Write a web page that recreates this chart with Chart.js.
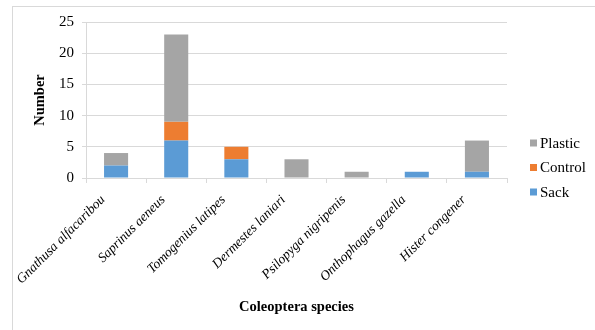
<!DOCTYPE html>
<html>
<head>
<meta charset="utf-8">
<script src="https://cdn.jsdelivr.net/npm/chart.js@4"></script>
<style>
  html, body { margin: 0; padding: 0; background: #fff; }
  #wrap { position: relative; width: 595px; height: 330px; overflow: hidden; }
  #frame { position: absolute; left: 12px; top: 6px; width: 600px; height: 340px;
           border-left: 1.5px solid #d9d9d9; border-top: 1.5px solid #d9d9d9; }
  canvas { position: absolute; left: 0; top: 0; }
</style>
</head>
<body>
<div id="wrap">
  <div id="frame"></div>
  <canvas id="chart" width="595" height="330"></canvas>
</div>
<script>
// Coleoptera species counted per trap type
const species = [
  'Gnathusa alfacaribou',
  'Saprinus aeneus',
  'Tomogenius latipes',
  'Dermestes laniari',
  'Psilopyga nigripenis',
  'Onthophagus gazella',
  'Hister congener'
];
const sack    = [2, 6, 3, 0, 0, 1, 1];
const control = [0, 3, 2, 0, 0, 0, 0];
const plastic = [2, 14, 0, 3, 1, 0, 5];
const yTicks  = [0, 5, 10, 15, 20, 25];

const SERIF = "'Liberation Serif', 'DejaVu Serif', serif";

// Legend listed top-down as Plastic, Control, Sack beside the plot
const sideLegend = {
  id: 'sideLegend',
  afterDraw(chart) {
    const ctx = chart.ctx;
    const items = chart.data.datasets.slice().reverse();
    ctx.save();
    ctx.font = 'normal normal 15px ' + SERIF;
    ctx.textBaseline = 'middle';
    ctx.textAlign = 'left';
    items.forEach((ds, i) => {
      const y = 143 + i * 24.5;
      ctx.fillStyle = ds.backgroundColor;
      ctx.fillRect(530, y - 3.5, 7, 7);
      ctx.fillStyle = '#000';
      ctx.fillText(ds.label, 540, y + 1);
    });
    ctx.restore();
  }
};

new Chart(document.getElementById('chart'), {
  type: 'bar',
  data: {
    labels: species,
    datasets: [
      { label: 'Sack',    data: sack,    backgroundColor: '#5b9bd5' },
      { label: 'Control', data: control, backgroundColor: '#ed7d31' },
      { label: 'Plastic', data: plastic, backgroundColor: '#a5a5a5' }
    ]
  },
  options: {
    responsive: false,
    animation: false,
    devicePixelRatio: 1,
    layout: { padding: { left: 32, right: 88, top: 22, bottom: 14 } },
    datasets: { bar: { barPercentage: 0.4, categoryPercentage: 1.0 } },
    plugins: { legend: { display: false }, tooltip: { enabled: false } },
    scales: {
      x: {
        stacked: true,
        offset: true,
        grid: { drawOnChartArea: false, offset: true, color: '#d9d9d9', tickLength: 5 },
        border: { color: '#d9d9d9', width: 1 },
        ticks: {
          maxRotation: 45, minRotation: 45, autoSkip: false, padding: 9, labelOffset: -13,
          color: '#000', font: { family: SERIF, size: 13.5, style: 'italic' }
        },
        title: {
          display: true, text: 'Coleoptera species', color: '#000',
          font: { family: SERIF, size: 14.5, weight: 'bold' }, padding: 0
        },
        afterFit(scale) { scale.height = 330 - 178 - 14; }
      },
      y: {
        stacked: true,
        min: 0, max: 25,
        afterBuildTicks(scale) { scale.ticks = yTicks.map(v => ({ value: v })); },
        grid: { color: '#d9d9d9', tickLength: 4 },
        border: { color: '#d9d9d9', width: 1 },
        ticks: { padding: 8, color: '#000', font: { family: SERIF, size: 15 } },
        title: {
          display: true, text: 'Number', color: '#000',
          font: { family: SERIF, size: 14.5, weight: 'bold' }, padding: 0
        },
        afterFit(scale) { scale.width = 86 - 32; }
      }
    }
  },
  plugins: [sideLegend]
});
</script>
</body>
</html>
